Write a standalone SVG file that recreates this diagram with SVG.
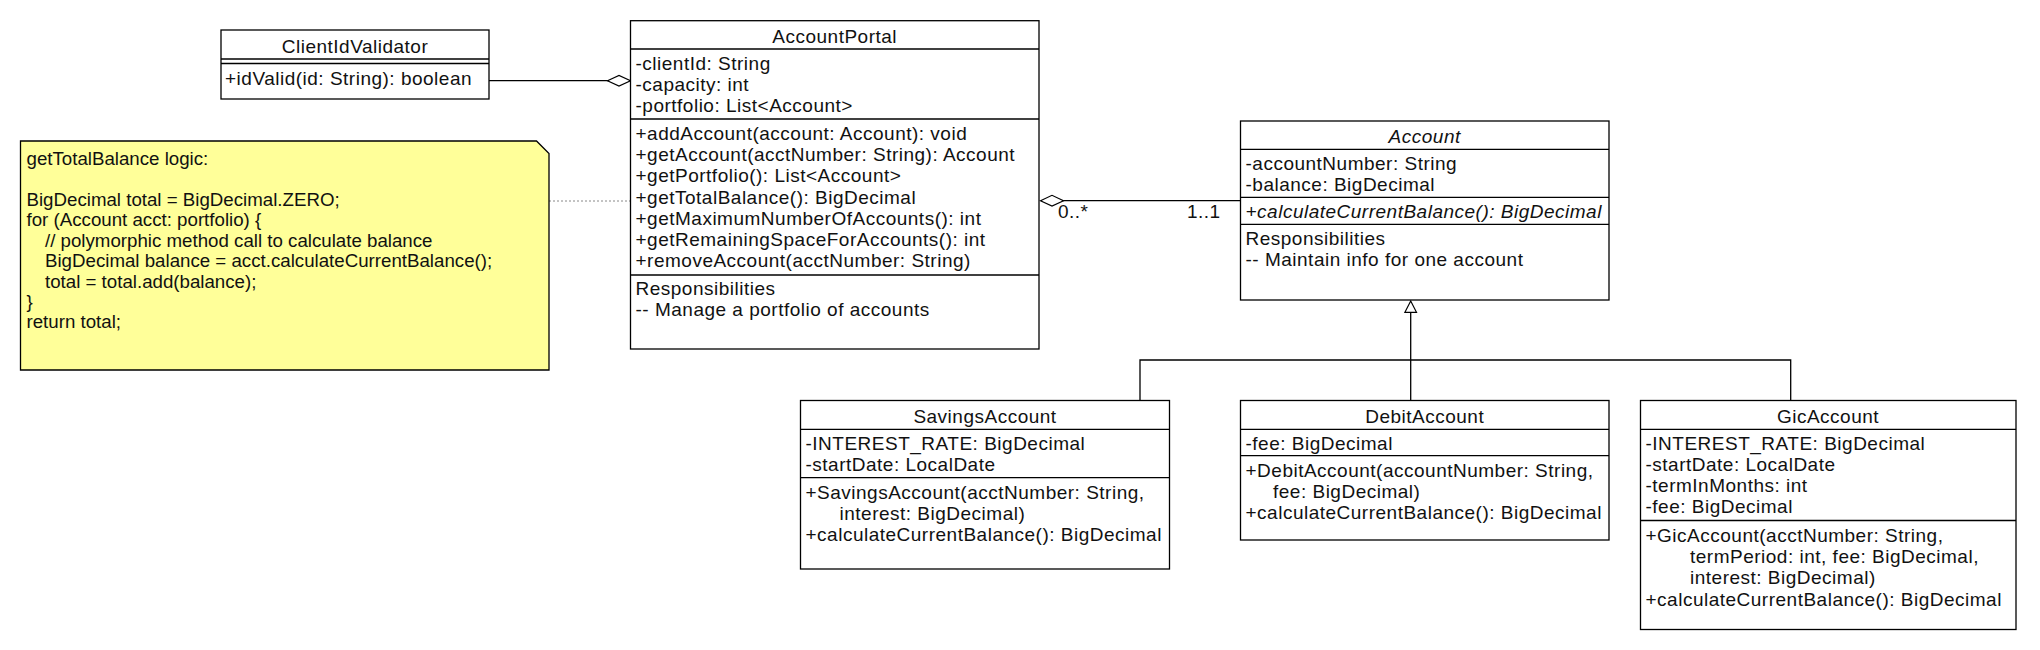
<svg xmlns="http://www.w3.org/2000/svg" width="2040" height="650" viewBox="0 0 2040 650">
<style>
.box{fill:#fff;stroke:#000;stroke-width:1.3}
.sep{stroke:#000;stroke-width:1.3;fill:none}
.t{font-family:"Liberation Sans",Arial,sans-serif;font-size:19px;letter-spacing:0.5px;fill:#111}
.c{text-anchor:middle}
.i{font-style:italic}
.n{font-family:"Liberation Sans",Arial,sans-serif;font-size:18.7px;fill:#111}
.ln{stroke:#000;stroke-width:1.3;fill:none}
.hollow{fill:#fff;stroke:#000;stroke-width:1.2}
</style>
<rect width="2040" height="650" fill="#fff"/>

<g id="connectors">
  <line class="ln" x1="489" y1="80.7" x2="608" y2="80.7"/>
  <polygon class="hollow" points="607.5,80.7 619,75.5 630.5,80.7 619,86"/>
  <line x1="549" y1="201" x2="630" y2="201" stroke="#888" stroke-width="1" stroke-dasharray="2,2"/>
  <line class="ln" x1="1063" y1="200.7" x2="1240.5" y2="200.7"/>
  <polygon class="hollow" points="1040.5,200.7 1052,195.3 1063.5,200.7 1052,206"/>
  <text class="t" x="1058" y="218">0..*</text>
  <text class="t" x="1187" y="218">1..1</text>
  <polygon class="hollow" points="1410.7,301 1416.5,312.3 1404.9,312.3"/>
  <line class="ln" x1="1410.7" y1="312.3" x2="1410.7" y2="400.5"/>
  <polyline class="ln" points="1140,400.5 1140,360 1790.7,360 1790.7,400.5"/>
</g>

<g id="ClientIdValidator">
  <rect class="box" x="221" y="30" width="268" height="69"/>
  <text class="t c" x="355" y="53">ClientIdValidator</text>
  <line class="sep" x1="221" y1="59" x2="489" y2="59"/>
  <line class="sep" x1="221" y1="63.5" x2="489" y2="63.5"/>
  <text class="t" x="225" y="85">+idValid(id: String): boolean</text>
</g>

<g id="note">
  <path d="M20.5,141 H536.5 L549,153.5 V370 H20.5 Z" fill="#ffff99" stroke="#000" stroke-width="1.3"/>
  <text class="n" x="26.5" y="165">getTotalBalance logic:</text>
  <text class="n" x="26.5" y="206">BigDecimal total = BigDecimal.ZERO;</text>
  <text class="n" x="26.5" y="226.4">for (Account acct: portfolio) {</text>
  <text class="n" x="45" y="246.8">// polymorphic method call to calculate balance</text>
  <text class="n" x="45" y="267.2">BigDecimal balance = acct.calculateCurrentBalance();</text>
  <text class="n" x="45" y="287.6">total = total.add(balance);</text>
  <text class="n" x="26.5" y="308">}</text>
  <text class="n" x="26.5" y="328.4">return total;</text>
</g>

<g id="AccountPortal">
  <rect class="box" x="630.5" y="20.7" width="408.5" height="328.3"/>
  <text class="t c" x="834.7" y="43">AccountPortal</text>
  <line class="sep" x1="630.5" y1="49" x2="1039" y2="49"/>
  <text class="t" x="635.5" y="70">-clientId: String</text>
  <text class="t" x="635.5" y="91.2">-capacity: int</text>
  <text class="t" x="635.5" y="112.4">-portfolio: List&lt;Account&gt;</text>
  <line class="sep" x1="630.5" y1="119" x2="1039" y2="119"/>
  <text class="t" x="635.5" y="140">+addAccount(account: Account): void</text>
  <text class="t" x="635.5" y="161.2">+getAccount(acctNumber: String): Account</text>
  <text class="t" x="635.5" y="182.4">+getPortfolio(): List&lt;Account&gt;</text>
  <text class="t" x="635.5" y="203.6">+getTotalBalance(): BigDecimal</text>
  <text class="t" x="635.5" y="224.8">+getMaximumNumberOfAccounts(): int</text>
  <text class="t" x="635.5" y="246">+getRemainingSpaceForAccounts(): int</text>
  <text class="t" x="635.5" y="267.2">+removeAccount(acctNumber: String)</text>
  <line class="sep" x1="630.5" y1="275" x2="1039" y2="275"/>
  <text class="t" x="635.5" y="294.5">Responsibilities</text>
  <text class="t" x="635.5" y="315.7">-- Manage a portfolio of accounts</text>
</g>

<g id="Account">
  <rect class="box" x="1240.5" y="121" width="368.5" height="179"/>
  <text class="t c i" x="1424.7" y="143">Account</text>
  <line class="sep" x1="1240.5" y1="149.3" x2="1609" y2="149.3"/>
  <text class="t" x="1245.5" y="170">-accountNumber: String</text>
  <text class="t" x="1245.5" y="191.2">-balance: BigDecimal</text>
  <line class="sep" x1="1240.5" y1="197.3" x2="1609" y2="197.3"/>
  <text class="t i" x="1245.5" y="217.5">+calculateCurrentBalance(): BigDecimal</text>
  <line class="sep" x1="1240.5" y1="224.3" x2="1609" y2="224.3"/>
  <text class="t" x="1245.5" y="244.5">Responsibilities</text>
  <text class="t" x="1245.5" y="265.7">-- Maintain info for one account</text>
</g>

<g id="SavingsAccount">
  <rect class="box" x="800.5" y="400.5" width="369" height="168.5"/>
  <text class="t c" x="985" y="423">SavingsAccount</text>
  <line class="sep" x1="800.5" y1="429.3" x2="1169.5" y2="429.3"/>
  <text class="t" x="805.5" y="449.5">-INTEREST_RATE: BigDecimal</text>
  <text class="t" x="805.5" y="470.7">-startDate: LocalDate</text>
  <line class="sep" x1="800.5" y1="477.7" x2="1169.5" y2="477.7"/>
  <text class="t" x="805.5" y="499">+SavingsAccount(acctNumber: String,</text>
  <text class="t" x="839.5" y="520.2">interest: BigDecimal)</text>
  <text class="t" x="805.5" y="541.4">+calculateCurrentBalance(): BigDecimal</text>
</g>

<g id="DebitAccount">
  <rect class="box" x="1240.5" y="400.5" width="368.5" height="139.5"/>
  <text class="t c" x="1424.7" y="423">DebitAccount</text>
  <line class="sep" x1="1240.5" y1="429.3" x2="1609" y2="429.3"/>
  <text class="t" x="1245.5" y="449.5">-fee: BigDecimal</text>
  <line class="sep" x1="1240.5" y1="455.7" x2="1609" y2="455.7"/>
  <text class="t" x="1245.5" y="477">+DebitAccount(accountNumber: String,</text>
  <text class="t" x="1273" y="498.2">fee: BigDecimal)</text>
  <text class="t" x="1245.5" y="519.4">+calculateCurrentBalance(): BigDecimal</text>
</g>

<g id="GicAccount">
  <rect class="box" x="1640.5" y="400.5" width="375.5" height="229"/>
  <text class="t c" x="1828" y="423">GicAccount</text>
  <line class="sep" x1="1640.5" y1="429.3" x2="2016" y2="429.3"/>
  <text class="t" x="1645.5" y="449.5">-INTEREST_RATE: BigDecimal</text>
  <text class="t" x="1645.5" y="470.7">-startDate: LocalDate</text>
  <text class="t" x="1645.5" y="491.9">-termInMonths: int</text>
  <text class="t" x="1645.5" y="513.1">-fee: BigDecimal</text>
  <line class="sep" x1="1640.5" y1="520.5" x2="2016" y2="520.5"/>
  <text class="t" x="1645.5" y="542">+GicAccount(acctNumber: String,</text>
  <text class="t" x="1690" y="563.2">termPeriod: int, fee: BigDecimal,</text>
  <text class="t" x="1690" y="584.4">interest: BigDecimal)</text>
  <text class="t" x="1645.5" y="605.6">+calculateCurrentBalance(): BigDecimal</text>
</g>
</svg>
